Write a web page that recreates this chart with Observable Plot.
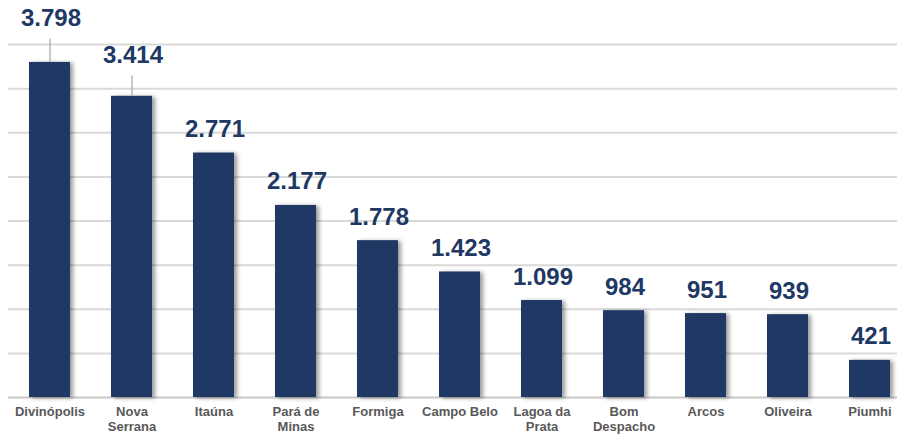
<!DOCTYPE html>
<html><head><meta charset="utf-8">
<script src="https://cdn.jsdelivr.net/npm/d3@7"></script>
<script src="https://cdn.jsdelivr.net/npm/@observablehq/plot@0.6"></script>
<style>
body{margin:0;background:#fff;}
#chart svg{font-family:"Liberation Sans",Arial,sans-serif;}
</style>
</head><body><div id="chart"></div>
<script>
const categories = ["Divinópolis","Nova Serrana","Itaúna","Pará de Minas","Formiga","Campo Belo","Lagoa da Prata","Bom Despacho","Arcos","Oliveira","Piumhi"];
const tickLabels = ["Divinópolis","Nova\nSerrana","Itaúna","Pará de\nMinas","Formiga","Campo Belo","Lagoa da\nPrata","Bom\nDespacho","Arcos","Oliveira","Piumhi"];
const values = [3798,3414,2771,2177,1778,1423,1099,984,951,939,421];
const valueLabels = ["3.798","3.414","2.771","2.177","1.778","1.423","1.099","984","951","939","421"];
const gridTicks = [500,1000,1500,2000,2500,3000,3500,4000];
// extra lift (data units) for labels with leader lines
const leaderLift = [231,196,0,0,0,0,0,0,0,0,0];

const data = categories.map((c,i)=>({cat:c, value:values[i], label:valueLabels[i], lift:leaderLift[i]}));
const leaders = data.filter(d=>d.lift>0);
const navy = "#203864";

const chart = Plot.plot({
  width: 897, height: 436,
  marginTop: 0, marginBottom: 39, marginLeft: 8, marginRight: 0,
  x: {domain: categories, range: [8, 910], paddingInner: 0.5, paddingOuter: 0.25, axis: null, label: null},
  y: {domain: [0, 4500], axis: null},
  marks: [
    Plot.ruleY(gridTicks, {stroke: "#d9d9d9", strokeWidth: 2}),
    Plot.ruleY([0], {stroke: "#c8c8c8", strokeWidth: 2}),
    Plot.barY(data, {x: "cat", y: "value", fill: navy, className: "bars"}),
    Plot.ruleX(leaders, {x: "cat", y1: "value", y2: d => d.value + d.lift + 35, stroke: "#a6a6a6", strokeWidth: 1.2}),
    Plot.text(data, {x: "cat", y: d => d.value + 268 + d.lift, text: "label", fill: navy, fontSize: 24, fontWeight: "bold", dx: 1}),
    Plot.axisX({domain: categories, label: null, tickSize: 0, tickPadding: 7, tickFormat: c => tickLabels[categories.indexOf(c)], fontSize: 13, fontWeight: "bold", fill: "#595959", lineHeight: 1.2})
  ]
});
d3.select(chart).selectAll(".bars rect").style("filter","drop-shadow(3px 1px 2px rgba(0,0,0,0.4))");
document.getElementById("chart").appendChild(chart);
</script>
</body></html>
